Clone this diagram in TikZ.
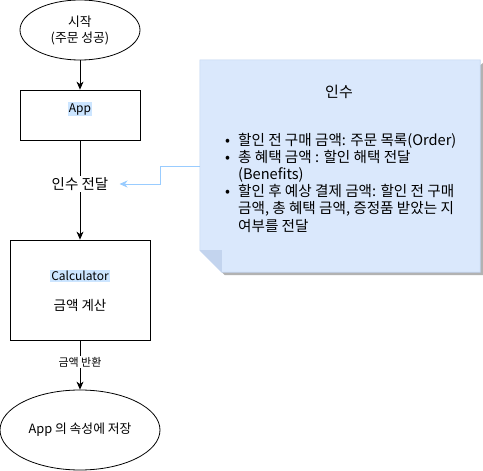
\documentclass[tikz,border=0pt]{standalone}
\usepackage{fontspec}
\setmainfont{Noto Sans CJK KR}
\usetikzlibrary{shapes.geometric,arrows.meta}

\definecolor{notefill}{HTML}{DAE8FC}
\definecolor{notefold}{HTML}{C3D4EE}
\definecolor{noteline}{HTML}{C2D4F0}
\definecolor{linkblue}{HTML}{99CCFF}
\definecolor{marked}{HTML}{CCE5FF}

\tikzset{
  terminal/.style={draw, ellipse, line width=0.8pt, inner sep=0pt},
  process/.style={draw, rectangle, line width=0.8pt, inner sep=0pt},
  flow/.style={line width=0.8pt, -{Stealth[length=8pt, width=7pt, inset=2.5pt]}},
  edgelabel/.style={fill=white, inner sep=1pt},
  hilite/.style={fill=marked, inner sep=1pt, font=\fontsize{12}{14}\selectfont},
}

\begin{document}
\begin{tikzpicture}[x=1pt, y=-1pt, font=\fontsize{12.8}{16}\selectfont]
\useasboundingbox (0,0) rectangle (483,471);

% flow on the left
\node[terminal, minimum width=120pt, minimum height=60pt, align=center] (start) at (80,30) {시작\\(주문 성공)};
\node[process, minimum width=120pt, minimum height=50pt] (app) at (80,115) {};
\node[hilite] (appname) at (80,109) {App};
\node[process, minimum width=140pt, minimum height=100pt] (calc) at (80,290) {};
\node[hilite] (calcname) at (80,276) {Calculator};
\node[font=\fontsize{13.5}{16}\selectfont] (calcjob) at (80,305) {금액 계산};
\node[terminal, minimum width=160pt, minimum height=80pt] (stop) at (80,430) {App 의 속성에 저장};

\draw[flow] (start) -- (app);
\draw[flow] (app) -- (calc);
\draw[flow] (calc) -- (stop);
\node[edgelabel, font=\fontsize{14.5}{16}\selectfont] (pass) at (80,184) {인수 전달};
\node[edgelabel, font=\fontsize{11}{12}\selectfont] (back) at (80,362) {금액 반환};

% note with folded corner
\node[minimum width=280pt, minimum height=212pt, inner sep=0pt] (note) at (340,166) {};
\fill[black!30] ([xshift=3pt, yshift=-3pt]note.north east) -- ([xshift=3pt, yshift=-3pt]note.south east)
  -- ([xshift=25pt, yshift=-3pt]note.south west) -- ([xshift=22pt]note.south west) -- cycle;
\draw[fill=notefill, draw=noteline, line width=0.6pt] (note.north west) -- (note.north east) -- (note.south east)
  -- ([xshift=22pt]note.south west) -- ([yshift=22pt]note.south west) -- cycle;
\fill[notefold] ([yshift=22pt]note.south west) -- ([xshift=22pt, yshift=22pt]note.south west)
  -- ([xshift=22pt]note.south west) -- cycle;
\node[font=\fontsize{15}{17}\selectfont] (argtitle) at (339,92) {인수};
\node[anchor=base west, inner sep=0pt, font=\fontsize{14.6}{17}\selectfont] (arglist) at (225,145) {%
  \begin{tabular}[t]{@{}l@{\hspace{8pt}}l@{}}
  \textbullet & 할인 전 구매 금액: 주문 목록(Order)\\
  \textbullet & 총 혜택 금액 : 할인 해택 전달\\
              & (Benefits)\\
  \textbullet & 할인 후 예상 결제 금액: 할인 전 구매\\
              & 금액, 총 혜택 금액, 증정품 받았는 지\\
              & 여부를 전달
  \end{tabular}};

\draw[linkblue, line width=0.8pt, -{Stealth[length=8pt, width=7pt, inset=2.5pt]}]
  (note.west) -- ++(-39,0) |- ([xshift=10pt]pass.east);
\end{tikzpicture}
\end{document}
